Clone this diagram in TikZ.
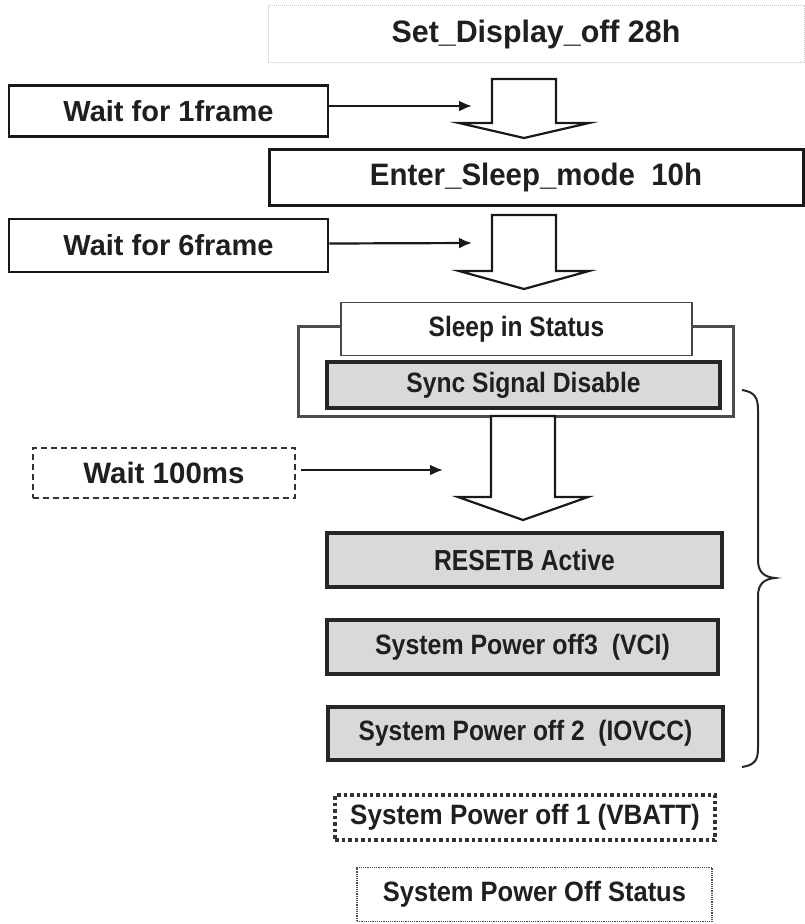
\documentclass[tikz,border=0pt]{standalone}
\usepackage{graphicx}
\usepackage{fontspec}
\setmainfont{Liberation Sans}
\usetikzlibrary{arrows.meta}
\newcommand\blockarr[4]{%
  \draw[blockarrow] ({#1-32},#2) -- ({#1+32},#2) -- ({#1+32},#3) -- ({#1+65},#3)
    -- (#1,#4) -- ({#1-65},#3) -- ({#1-32},#3) -- cycle;}
\newcommand\cond[2]{\scalebox{#1}[1]{#2}}
\begin{document}
\begin{tikzpicture}[x=1pt,y=-1pt,
  fs/.style={font=\fontsize{#1}{#1}\selectfont\bfseries},
  base/.style={inner sep=0pt, align=center, text=black!88},
  waitbox/.style={base, draw=black!90, line width=2.5pt, fill=white},
  dashbox/.style={base, draw=black!80, line width=1.8pt, fill=white, dash pattern=on 6pt off 4pt},
  graybox/.style={base, draw=black!85, line width=4.5pt, fill=gray!30},
  blockarrow/.style={draw=black!90, line width=2.2pt, fill=white, line join=miter},
  conn/.style={draw=black!90, line width=2.2pt, -{Latex[length=13pt,width=11pt]}},
]
\useasboundingbox (0,0) rectangle (805,924);
\fill[white] (0,0) rectangle (805,924);

% top command
\node[base, draw=gray!45, line width=1pt, densely dotted, minimum width=536pt, minimum height=57pt, fs=31]
  (disp) at (536,34) {\cond{0.98}{Set\_Display\_off 28h}};

% wait 1 frame
\node[waitbox, minimum width=319pt, minimum height=51pt, fs=29] (wait1) at (168.5,111) {Wait for 1frame};
\coordinate (a1) at (472,106);
\blockarr{524}{79}{123}{138}
\draw[conn] ([yshift=5pt]wait1.east) -- (a1);

% enter sleep
\node[base, draw=black!90, line width=3pt, fill=white, minimum width=534pt, minimum height=56pt, fs=31]
  (enter) at (536,177) {\cond{0.95}{Enter\_Sleep\_mode\ \ 10h}};

% wait 6 frame
\node[waitbox, minimum width=319pt, minimum height=53pt, fs=29] (wait6) at (168.5,245.5) {Wait for 6frame};
\coordinate (a2) at (472,243);
\blockarr{524}{215}{271}{289}
\draw[conn] ([yshift=2pt]wait6.east) -- (a2);

% sleep in status group
\draw[draw=gray!60!black, line width=3pt] (298,326) rectangle (733,416);
\node[base, draw=gray!55!black, line width=1.8pt, fill=white, minimum width=351pt, minimum height=53pt, fs=28]
  (sleep) at (516.5,329) {\cond{0.875}{Sleep in Status}};
\node[graybox, minimum width=393pt, minimum height=46pt, fs=28] (sync) at (523.5,385) {\cond{0.88}{Sync Signal Disable}};

% wait 100ms
\node[dashbox, minimum width=262pt, minimum height=50pt, fs=29.5] (wait100) at (164,473) {Wait 100ms};
\coordinate (a3) at (443,470);
\blockarr{523}{416}{497}{520}
\draw[conn] ([xshift=5pt,yshift=3pt]wait100.east) -- (a3);

% power off sequence
\node[graybox, minimum width=395pt, minimum height=54pt, fs=29] (reset) at (524.5,560) {\cond{0.85}{RESETB Active}};
\node[graybox, minimum width=391pt, minimum height=54pt, fs=28] (off3) at (522.5,647) {\cond{0.89}{System Power off3\ \ (VCI)}};
\node[graybox, minimum width=395pt, minimum height=53pt, fs=28] (off2) at (525.5,733.5) {\cond{0.875}{System Power off 2\ \ (IOVCC)}};

% brace
\draw[black!85, line width=2pt] (742,390) .. controls (755,392) and (758,398) .. (758,410)
  -- (758,560) .. controls (758,572) and (764,577) .. (775,578)
  .. controls (764,579) and (758,584) .. (758,596)
  -- (758,748) .. controls (758,760) and (755,765) .. (742,767);

\node[base, draw=black!80, line width=3.5pt, dash pattern=on 3.5pt off 3pt, fill=white,
  minimum width=380pt, minimum height=45pt, fs=28] (vbatt) at (525,817.5) {\cond{0.93}{System Power off 1 (VBATT)}};
\node[base, draw=gray!60!black, line width=1.2pt, densely dotted, fill=white,
  minimum width=355pt, minimum height=54pt, fs=28] (offstat) at (534.5,894.5) {\cond{0.91}{System Power Off Status}};
\end{tikzpicture}
\end{document}
